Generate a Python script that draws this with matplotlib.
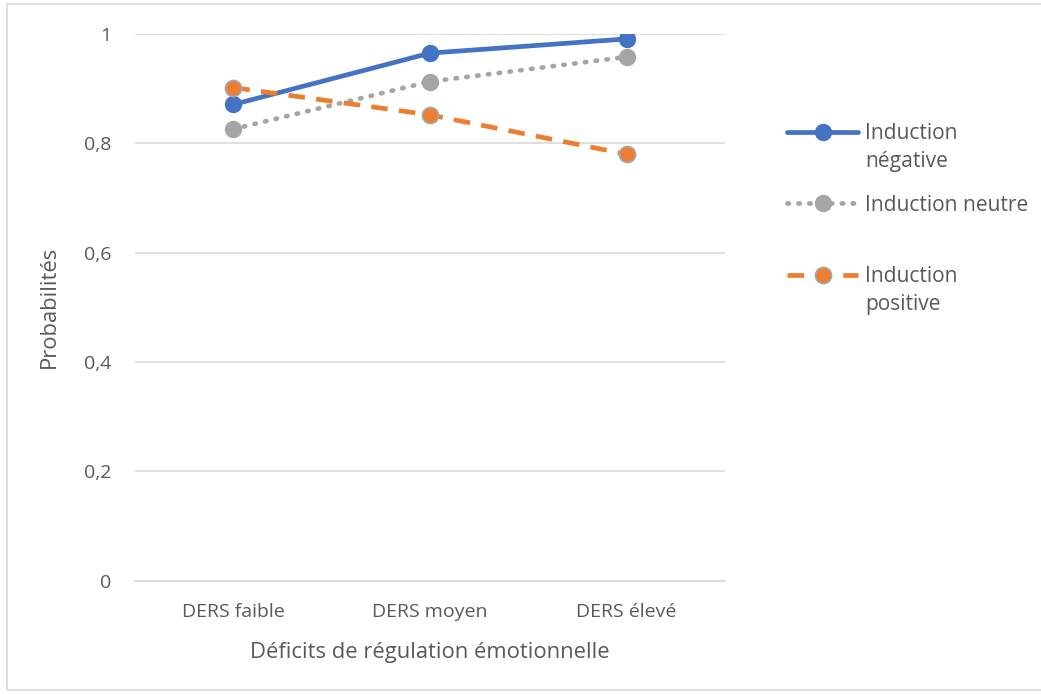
import matplotlib.pyplot as plt
from matplotlib.patches import Rectangle

categories = ["DERS faible", "DERS moyen", "DERS élevé"]
negative = [0.871, 0.965, 0.991]
neutre = [0.826, 0.913, 0.958]
positive = [0.902, 0.852, 0.780]
yticks = [0, 0.2, 0.4, 0.6, 0.8, 1]
ytick_labels = ["0", "0,2", "0,4", "0,6", "0,8", "1"]
# legend labels: first line goes in the legend, second line is added under it
legend_first = ["Induction", "Induction neutre", "Induction"]
legend_second = ["négative", "", "positive"]

plt.rcParams['font.family'] = ['Open Sans', 'DejaVu Sans']
txt = '#595959'

fig = plt.figure(figsize=(10.41, 6.94), dpi=100)
ax = fig.add_axes([135/1041, 1 - 580.5/694, 590/1041, 546.5/694])

x = range(len(categories))
ax.plot(x, negative, color='#4472C4', lw=3.4, marker='o', ms=11.5,
        label=legend_first[0], solid_capstyle='round', zorder=3)
ax.plot(x, neutre, color='#A5A5A5', lw=3.4, ls=(0, (0.3, 2.0)), dash_capstyle='round',
        marker='o', ms=11.5, label=legend_first[1], zorder=3)
ax.plot(x, positive, color='#ED7D31', lw=3.4, ls=(0, (3.5, 2.4)),
        marker='o', ms=11.5, mec='#A5A5A5', mew=1.3, label=legend_first[2], zorder=3)

ax.set_xlim(-0.5, 2.5)
ax.set_ylim(0, 1)
ax.set_yticks(yticks)
ax.set_yticklabels(ytick_labels)
ax.set_xticks(list(x))
ax.set_xticklabels(categories)
ax.yaxis.grid(True, color='#D9D9D9', lw=1.2)
ax.set_axisbelow(True)
for s in ['left', 'right', 'top']:
    ax.spines[s].set_visible(False)
ax.spines['bottom'].set_color('#D9D9D9')
ax.spines['bottom'].set_linewidth(1.2)
ax.tick_params(axis='both', length=0, colors=txt, labelsize=14)
ax.tick_params(axis='y', pad=17)
ax.tick_params(axis='x', pad=16)
ax.set_xlabel("Déficits de régulation émotionnelle", color=txt, fontsize=15.8, labelpad=15)
ax.set_ylabel("Probabilités", color=txt, fontsize=15.8, labelpad=17)

leg = fig.legend(loc='upper left', bbox_to_anchor=(768/1041, 1 - 104/694), frameon=False,
                 fontsize=15.1, handlelength=3.4, labelspacing=2.42, handletextpad=0.33)
for t in leg.get_texts():
    t.set_color(txt)

# second lines of the two-line legend labels
fig.canvas.draw()
for t, extra in zip(leg.get_texts(), legend_second):
    if extra:
        bb = t.get_window_extent()
        fig.text(bb.x0 / 1041, (bb.y0 - 28) / 694, extra, color=txt, fontsize=15.1,
                 ha='left', va='bottom')

fig.patches.append(Rectangle((7/1041, 4/694), 1.0, 686/694, transform=fig.transFigure,
                             fill=False, edgecolor='#D9D9D9', lw=1.2))

fig.savefig("out.png", dpi=100)
